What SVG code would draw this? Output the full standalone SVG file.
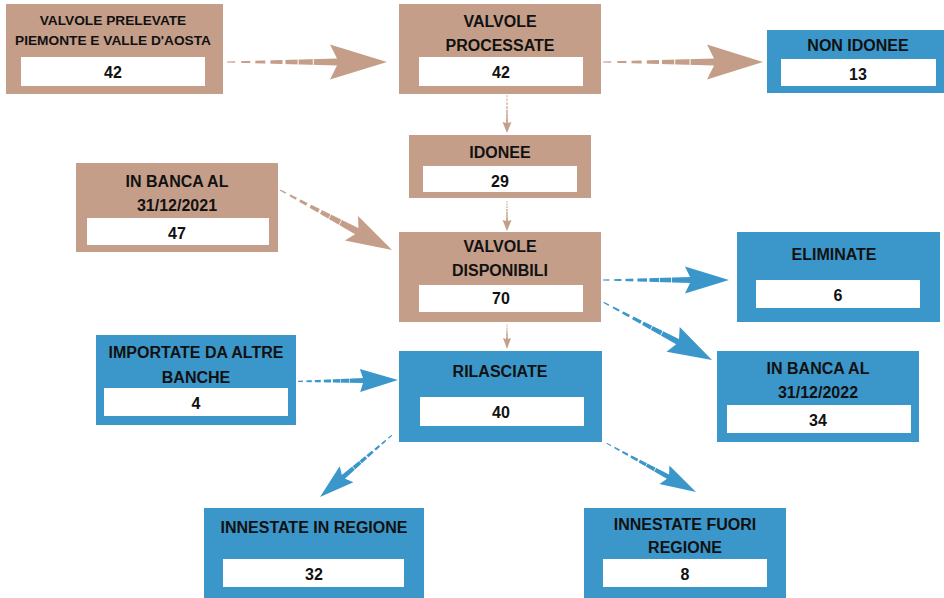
<svg xmlns="http://www.w3.org/2000/svg" width="944" height="598" viewBox="0 0 944 598">
  <style>
    .brown { fill: #c59e89; }
    .blue { fill: #3b96c9; }
    .inner { fill: #ffffff; }
    text { font-family: "Liberation Sans", Arial, sans-serif; font-weight: bold; fill: #111111; text-anchor: middle; }
    .t { font-size: 16px; }
    .ts { font-size: 13.7px; }
    .n { font-size: 16px; }
  </style>
  <defs>
    <!-- dashed taper: gaps widen toward the tail of each shaft -->
    <mask id="dash" maskContentUnits="objectBoundingBox">
      <g fill="#fff">
        <rect x="0" y="-1" width="0.073" height="3"/>
        <rect x="0.127" y="-1" width="0.082" height="3"/>
        <rect x="0.255" y="-1" width="0.09" height="3"/>
        <rect x="0.391" y="-1" width="0.109" height="3"/>
        <rect x="0.527" y="-1" width="0.109" height="3"/>
        <rect x="0.645" y="-1" width="0.128" height="3"/>
        <rect x="0.782" y="-1" width="0.25" height="3"/>
      </g>
    </mask>
  </defs>

  <!-- connectors -->
  <g id="connectors">
    <g class="brown" transform="translate(387 62)">
      <polygon mask="url(#dash)" points="-160,-0.6 -49,-3.5 -49,3.5 -160,0.6"/>
      <polygon points="0,0 -57,-17.5 -50,-3.5 -50,3.5 -57,17.5"/>
    </g>
    <g class="brown" transform="translate(763 62)">
      <polygon mask="url(#dash)" points="-160,-0.6 -48,-3.5 -48,3.5 -160,0.6"/>
      <polygon points="0,0 -56,-17.5 -49,-3.5 -49,3.5 -56,17.5"/>
    </g>
    <g class="brown" transform="translate(507 133) rotate(90)">
      <polygon mask="url(#dash)" points="-38,-0.4 -9.5,-0.9 -9.5,0.9 -38,0.4"/>
      <polygon points="0,0 -11,-4.5 -10,-0.9 -10,0.9 -11,4.5"/>
    </g>
    <g class="brown" transform="translate(507 231) rotate(90)">
      <polygon mask="url(#dash)" points="-30,-0.4 -9.5,-0.9 -9.5,0.9 -30,0.4"/>
      <polygon points="0,0 -11,-4.5 -10,-0.9 -10,0.9 -11,4.5"/>
    </g>
    <g class="brown" transform="translate(507 349) rotate(90)">
      <polygon mask="url(#dash)" points="-25,-0.4 -9.5,-0.9 -9.5,0.9 -25,0.4"/>
      <polygon points="0,0 -11,-4 -10,-0.9 -10,0.9 -11,4"/>
    </g>
    <g class="brown" transform="translate(392 250) rotate(28.2)">
      <polygon mask="url(#dash)" points="-127,-0.6 -39,-3.5 -39,3.5 -127,0.6"/>
      <polygon points="0,0 -46,-14 -40,-3.5 -40,3.5 -46,14"/>
    </g>
    <g class="blue" transform="translate(729 280)">
      <polygon mask="url(#dash)" points="-126,-0.6 -38,-3 -38,3 -126,0.6"/>
      <polygon points="0,0 -44,-13.5 -39,-3 -39,3 -44,13.5"/>
    </g>
    <g class="blue" transform="translate(712 360) rotate(28)">
      <polygon mask="url(#dash)" points="-123,-0.6 -38,-3 -38,3 -123,0.6"/>
      <polygon points="0,0 -44,-14 -39,-3 -39,3 -44,14"/>
    </g>
    <g class="blue" transform="translate(398 380) rotate(-0.8)">
      <polygon mask="url(#dash)" points="-100,-0.6 -34,-2.5 -34,2.5 -100,0.6"/>
      <polygon points="0,0 -38,-11.5 -35,-2.5 -35,2.5 -38,11.5"/>
    </g>
    <g class="blue" transform="translate(320 497) rotate(139.3)">
      <polygon mask="url(#dash)" points="-95,-0.5 -30,-2.5 -30,2.5 -95,0.5"/>
      <polygon points="0,0 -35,-10.5 -31,-2.5 -31,2.5 -35,10.5"/>
    </g>
    <g class="blue" transform="translate(696 492) rotate(28.6)">
      <polygon mask="url(#dash)" points="-102,-0.5 -31,-2.5 -31,2.5 -102,0.5"/>
      <polygon points="0,0 -36,-10.5 -32,-2.5 -32,2.5 -36,10.5"/>
    </g>
  </g>

  <!-- nodes -->
  <g id="prelevate">
    <rect class="brown" x="6" y="4" width="217" height="90"/>
    <rect class="inner" x="21" y="57" width="184" height="29"/>
    <text class="ts" x="113" y="25">VALVOLE PRELEVATE</text>
    <text class="ts" x="113" y="45">PIEMONTE E VALLE D'AOSTA</text>
    <text class="n" x="113" y="78">42</text>
  </g>
  <g id="processate">
    <rect class="brown" x="399" y="4" width="202" height="90"/>
    <rect class="inner" x="419" y="57" width="164" height="29"/>
    <text class="t" x="500" y="27">VALVOLE</text>
    <text class="t" x="500" y="51">PROCESSATE</text>
    <text class="n" x="501" y="78">42</text>
  </g>
  <g id="non-idonee">
    <rect class="blue" x="767" y="30" width="177" height="63"/>
    <rect class="inner" x="781" y="59" width="155" height="27"/>
    <text class="t" x="858" y="51">NON IDONEE</text>
    <text class="n" x="858" y="80">13</text>
  </g>
  <g id="idonee">
    <rect class="brown" x="409" y="135" width="182" height="63"/>
    <rect class="inner" x="423" y="166" width="154" height="26"/>
    <text class="t" x="500" y="158">IDONEE</text>
    <text class="n" x="500" y="187">29</text>
  </g>
  <g id="banca-2021">
    <rect class="brown" x="76" y="163" width="202" height="89"/>
    <rect class="inner" x="87" y="218" width="182" height="27"/>
    <text class="t" x="177" y="187">IN BANCA AL</text>
    <text class="t" x="177" y="211">31/12/2021</text>
    <text class="n" x="177" y="239">47</text>
  </g>
  <g id="disponibili">
    <rect class="brown" x="399" y="232" width="202" height="90"/>
    <rect class="inner" x="419" y="285" width="164" height="27"/>
    <text class="t" x="500" y="252">VALVOLE</text>
    <text class="t" x="500" y="276">DISPONIBILI</text>
    <text class="n" x="501" y="304">70</text>
  </g>
  <g id="eliminate">
    <rect class="blue" x="737" y="232" width="203" height="90"/>
    <rect class="inner" x="756" y="280" width="164" height="28"/>
    <text class="t" x="834" y="260">ELIMINATE</text>
    <text class="n" x="838" y="301">6</text>
  </g>
  <g id="importate">
    <rect class="blue" x="96" y="335" width="200" height="90"/>
    <rect class="inner" x="104" y="388" width="184" height="28"/>
    <text class="t" x="196" y="358">IMPORTATE DA ALTRE</text>
    <text class="t" x="196" y="383">BANCHE</text>
    <text class="n" x="196" y="409">4</text>
  </g>
  <g id="rilasciate">
    <rect class="blue" x="399" y="351" width="203" height="91"/>
    <rect class="inner" x="420" y="397" width="164" height="29"/>
    <text class="t" x="500" y="377">RILASCIATE</text>
    <text class="n" x="501" y="418">40</text>
  </g>
  <g id="banca-2022">
    <rect class="blue" x="717" y="351" width="202" height="91"/>
    <rect class="inner" x="727" y="405" width="184" height="28"/>
    <text class="t" x="818" y="374">IN BANCA AL</text>
    <text class="t" x="818" y="398">31/12/2022</text>
    <text class="n" x="818" y="426">34</text>
  </g>
  <g id="in-regione">
    <rect class="blue" x="204" y="508" width="220" height="90"/>
    <rect class="inner" x="223" y="559" width="181" height="28"/>
    <text class="t" x="314" y="533">INNESTATE IN REGIONE</text>
    <text class="n" x="314" y="580">32</text>
  </g>
  <g id="fuori-regione">
    <rect class="blue" x="584" y="508" width="202" height="90"/>
    <rect class="inner" x="603" y="559" width="164" height="28"/>
    <text class="t" x="685" y="530">INNESTATE FUORI</text>
    <text class="t" x="685" y="553">REGIONE</text>
    <text class="n" x="685" y="580">8</text>
  </g>
</svg>
